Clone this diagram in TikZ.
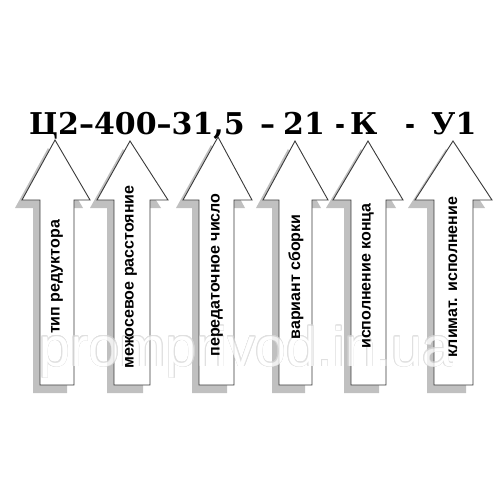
\documentclass[tikz,border=0pt]{standalone}
\usepackage{fontspec}
\setmainfont{DejaVu Serif}
\newfontfamily\lblfont{Liberation Sans}
\newfontfamily\ttlfont{DejaVu Serif}
\usepackage[copies]{contour}
\definecolor{shadowc}{HTML}{C0C0C0}
\definecolor{edgec}{HTML}{3A3A3A}
\definecolor{wmc}{HTML}{D6D6D6}
\tikzset{
  arrowbody/.style={fill=white, draw=edgec, line width=0.9pt, line join=miter},
  lbl/.style={rotate=90, inner sep=0pt, font=\lblfont\bfseries\fontsize{16}{16}\selectfont},
  ttl/.style={anchor=base west, inner sep=0pt, font=\ttlfont\bfseries\fontsize{30}{30}\selectfont}
}
% #1 tip x, #2 tip y, #3 head left, #4 head right, #5 shaft left, #6 shaft right
\newcommand\myarrow[6]{%
  \fill[shadowc, shift={(-7,8)}] (#1,#2) -- (#4,200) -- (#6,200) -- (#6,385) -- (#5,385) -- (#5,200) -- (#3,200) -- cycle;
  \draw[arrowbody] (#1,#2) -- (#4,200) -- (#6,200) -- (#6,385) -- (#5,385) -- (#5,200) -- (#3,200) -- cycle;
}
\begin{document}
\begin{tikzpicture}[x=1pt,y=-1pt]
\useasboundingbox (0,0) rectangle (500,500);
\fill[white] (0,0) rectangle (500,500);
% title
\node[ttl] (t1) at (29,135) {Ц2–400–31,5};
\node[ttl] (t2) at (260,135) {–};
\node[ttl] (t3) at (283,135) {21};
\node[ttl, xscale=0.8] (t4) at (335,135) {-};
\node[ttl] (t5) at (350,135) {К};
\node[ttl, xscale=0.8] (t6) at (405,135) {-};
\node[ttl] (t7) at (431,135) {У1};
% arrows
\myarrow{55}{140}{22}{90}{40}{74}
\myarrow{130}{141}{97}{168}{114}{150}
\myarrow{218}{137}{183}{252}{199}{234}
\myarrow{295}{141}{263}{328}{279}{312}
\myarrow{368}{141}{333}{403}{351}{386}
\myarrow{453}{141}{415}{492}{434}{473}
% watermark
\begin{scope}[transparency group, opacity=0.75]
\node[anchor=base west, inner sep=0pt, font=\lblfont\fontsize{55.6}{56}\selectfont] (wm) at (39,366) {\contourlength{0.55pt}\contour{wmc}{\textcolor{white}{promprivod.in.ua}}};
\end{scope}
% labels
\node[lbl] (l1) at (57,277) {тип редуктора};
\node[lbl] (l2) at (131,277) {межосевое расстояние};
\node[lbl] (l3) at (217,275) {передаточное число};
\node[lbl] (l4) at (296,277) {вариант сборки};
\node[lbl] (l5) at (368,276) {исполнение конца};
\node[lbl] (l6) at (453,277) {климат. исполнение};
\end{tikzpicture}
\end{document}
